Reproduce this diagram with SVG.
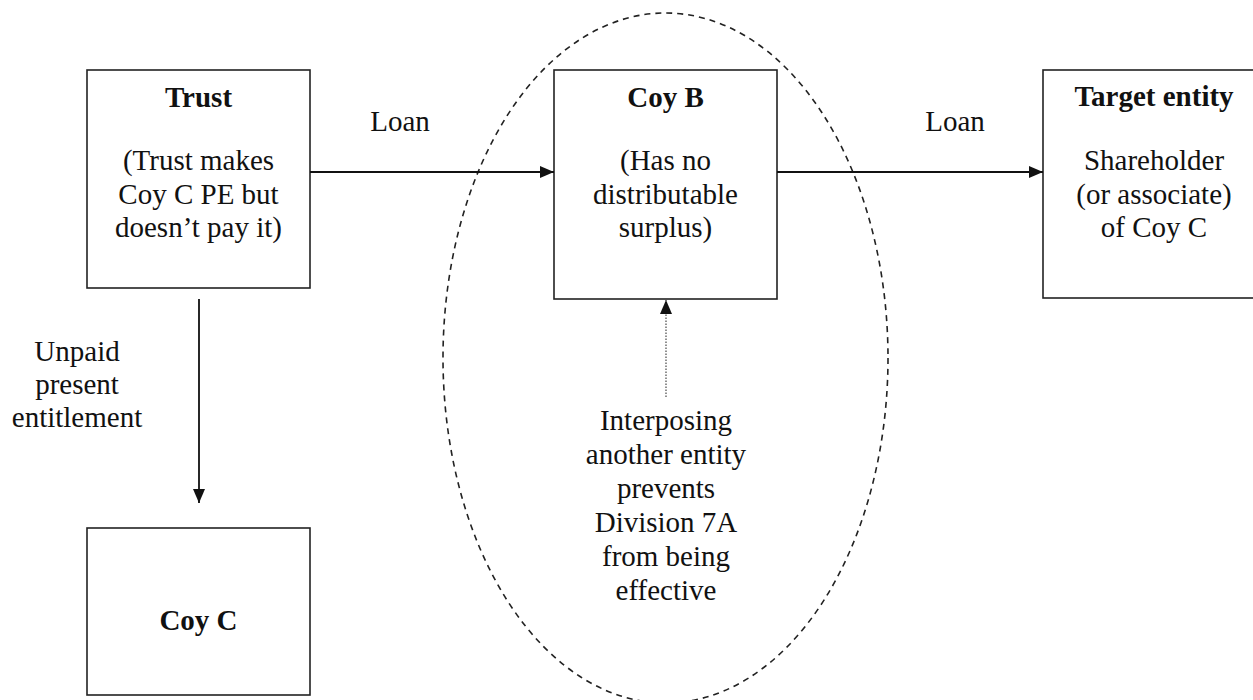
<svg xmlns="http://www.w3.org/2000/svg" width="1253" height="700" viewBox="0 0 1253 700">
<style>
.box{fill:#fff;stroke:#222;stroke-width:1.6}
.t{font-family:"Liberation Serif","Times New Roman",serif;font-size:29px;fill:#111;text-anchor:middle}
.b{font-weight:bold}
.line{stroke:#111;stroke-width:1.8;fill:none}
.dot{stroke:#555;stroke-width:1.3;stroke-dasharray:1.5 1.5;fill:none}
.ell{fill:none;stroke:#222;stroke-width:1.6;stroke-dasharray:6 5}
</style>
<defs>
<marker id="ah" viewBox="0 0 14 12" refX="14" refY="6" markerWidth="14" markerHeight="12" markerUnits="userSpaceOnUse" orient="auto">
<path d="M0,0 L14,6 L0,12 Z" fill="#111"/>
</marker>
</defs>
<rect width="1253" height="700" fill="#fff"/>
<ellipse class="ell" cx="665.5" cy="358" rx="222.5" ry="345"/>
<g id="trust">
<rect class="box" x="87" y="70" width="223" height="218"/>
<text class="t b" x="198.5" y="107">Trust</text>
<text class="t" x="198.5" y="170">(Trust makes</text>
<text class="t" x="198.5" y="204">Coy C PE but</text>
<text class="t" x="198.5" y="237">doesn’t pay it)</text>
</g>
<g id="coyb">
<rect class="box" x="554" y="70" width="223" height="229"/>
<text class="t b" x="665.5" y="107">Coy B</text>
<text class="t" x="665.5" y="170">(Has no</text>
<text class="t" x="665.5" y="204">distributable</text>
<text class="t" x="665.5" y="237">surplus)</text>
</g>
<g id="target">
<rect class="box" x="1043" y="70" width="222" height="228"/>
<text class="t b" x="1154" y="106">Target entity</text>
<text class="t" x="1154" y="170">Shareholder</text>
<text class="t" x="1154" y="204">(or associate)</text>
<text class="t" x="1154" y="237">of Coy C</text>
</g>
<g id="coyc">
<rect class="box" x="87" y="528" width="223" height="167"/>
<text class="t b" x="198.5" y="630">Coy C</text>
</g>
<g id="note">
<text class="t" x="666" y="430">Interposing</text>
<text class="t" x="666" y="464">another entity</text>
<text class="t" x="666" y="498">prevents</text>
<text class="t" x="666" y="532">Division 7A</text>
<text class="t" x="666" y="566">from being</text>
<text class="t" x="666" y="600">effective</text>
</g>
<g id="connectors">
<line class="line" x1="310" y1="172" x2="554" y2="172" marker-end="url(#ah)"/>
<line class="line" x1="777" y1="172" x2="1043" y2="172" marker-end="url(#ah)"/>
<line class="line" x1="199" y1="299" x2="199" y2="503" marker-end="url(#ah)"/>
<line class="dot" x1="666" y1="397" x2="666" y2="300" marker-end="url(#ah)"/>
<text class="t" x="400" y="131">Loan</text>
<text class="t" x="955" y="131">Loan</text>
<text class="t" x="77" y="361">Unpaid</text>
<text class="t" x="77" y="394">present</text>
<text class="t" x="77" y="427">entitlement</text>
</g>
</svg>
